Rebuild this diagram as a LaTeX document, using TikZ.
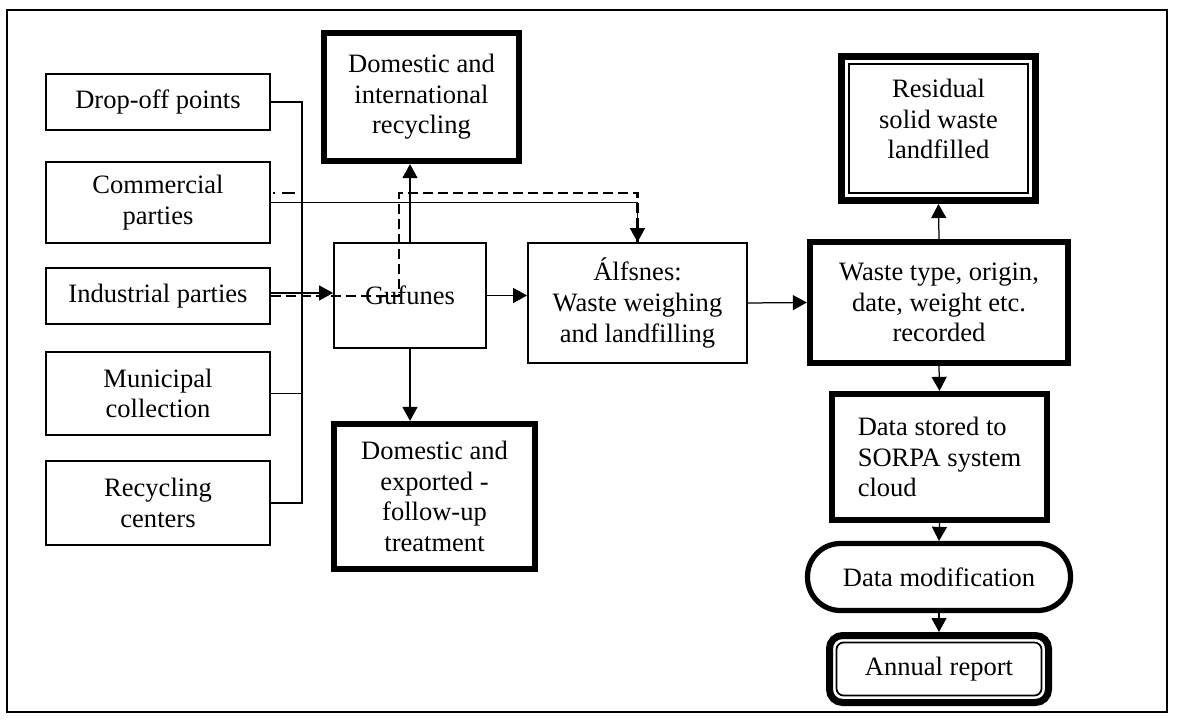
\documentclass[tikz,border=0pt]{standalone}
\usepackage{fontspec}
\setmainfont{Liberation Serif}
\usetikzlibrary{arrows.meta, positioning, calc}
\tikzset{
  every picture/.style={line width=0.25mm},
  every node/.style={font=\fontsize{15.1pt}{17.4pt}\selectfont},
  box/.style={draw, line width=0.35mm, align=center, inner sep=2pt},
  srcbox/.style={box, minimum width=44.8mm},
  heavy/.style={box, line width=1.25mm},
  innerframe/.style={draw, line width=0.35mm},
  arrow/.style={-{Triangle[length=2.8mm, width=3mm]}, line width=0.25mm},
  dashline/.style={line width=0.45mm, dash pattern=on 2mm off 1mm},
}

\begin{document}
\begin{tikzpicture}[x=0.2mm, y=-0.2mm]
  \useasboundingbox (0,0) rectangle (1183,720);
  \draw[line width=0.4mm] (7,10) rectangle (1167,712);
  % sources
  \node[srcbox, minimum height=11.2mm] (drop) at (158,102) {Drop-off points};
  \node[srcbox, minimum height=16.2mm] (com) at (158,202.5) {Commercial\\parties};
  \node[srcbox, minimum height=11.2mm] (ind) at (158,296) {Industrial parties};
  \node[srcbox, minimum height=16.6mm] (mun) at (158,393.5) {Municipal\\collection};
  \node[srcbox, minimum height=16.8mm] (rec) at (158,503) {Recycling\\centers};
  % sites
  \node[box, minimum width=30.4mm, minimum height=21mm] (guf) at (410,295.5) {Gufunes};
  \node[box, minimum width=43.8mm, minimum height=24mm] (alf) at (637.5,303) {Álfsnes:\\Waste weighing\\and landfilling};
  \node[heavy, minimum width=39mm, minimum height=25.6mm] (dint) at (421.5,97) {Domestic and\\international\\recycling};
  \node[heavy, minimum width=40.2mm, minimum height=29mm] (dexp) at (434.5,496.5) {Domestic and\\exported -\\follow-up\\treatment};
  % data chain
  \node[heavy, minimum width=51.6mm, minimum height=24.2mm] (wst) at (939,302.5) {Waste type, origin,\\date, weight etc.\\recorded};
  \node[heavy, line width=1.4mm, text depth=11pt, minimum width=38.8mm, minimum height=28.8mm] (res) at (938.5,128.5) {Residual\\solid waste\\landfilled};
  \draw[innerframe] ([shift={(2.2mm,-2.2mm)}]res.north west) rectangle ([shift={(-2.2mm,2.2mm)}]res.south east);
  \node[heavy, align=left, minimum width=43mm, minimum height=25.2mm] (sto) at (939.5,457) {Data stored to\\SORPA system\\cloud};
  \node[heavy, line width=1.05mm, rounded corners=6.6mm, minimum width=52.6mm, minimum height=13.4mm] (mod) at (939,577) {Data modification};
  \node[heavy, line width=1.4mm, rounded corners=2.6mm, minimum width=43.8mm, minimum height=13.4mm] (ann) at (939,669) {Annual report};
  \draw[innerframe, rounded corners=1.4mm] ([shift={(2.1mm,-2.1mm)}]ann.north west) rectangle ([shift={(-2.1mm,2.1mm)}]ann.south east);

  % collection bus
  \coordinate (bus) at (302,0);
  \draw (drop.east) -- (drop.east -| bus) -- (rec.east -| bus) -- (rec.east);
  \draw (mun.east) -- (mun.east -| bus);
  \draw[arrow] ([yshift=0.6mm]ind.east) -- ([yshift=0.6mm]ind.east -| guf.west);
  \draw[arrow] (com.east) -| (alf.north);
  % dashed route
  \coordinate (dbend) at (399,193);
  \draw[dashline] (ind.east) -| (dbend) -| (alf.north);
  \draw[line width=0.45mm, dash pattern=on 0.4mm off 1.4mm on 2.6mm] ([xshift=0.5mm]com.east |- dbend) -- ++(22,0);
  % flows
  \draw[arrow] (guf.north) -- (guf.north |- dint.south);
  \draw[arrow] (guf.south) -- (guf.south |- dexp.north);
  \draw[arrow] (guf.east) -- (guf.east -| alf.west);
  \draw[arrow] (alf.east) -- (wst.west);
  \draw[arrow] (wst.north) -- (res.south);
  \draw[arrow] (wst.south) -- (sto.north);
  \draw[arrow] (sto.south) -- (mod.north);
  \draw[arrow] (mod.south) -- (ann.north);
\end{tikzpicture}
\end{document}
